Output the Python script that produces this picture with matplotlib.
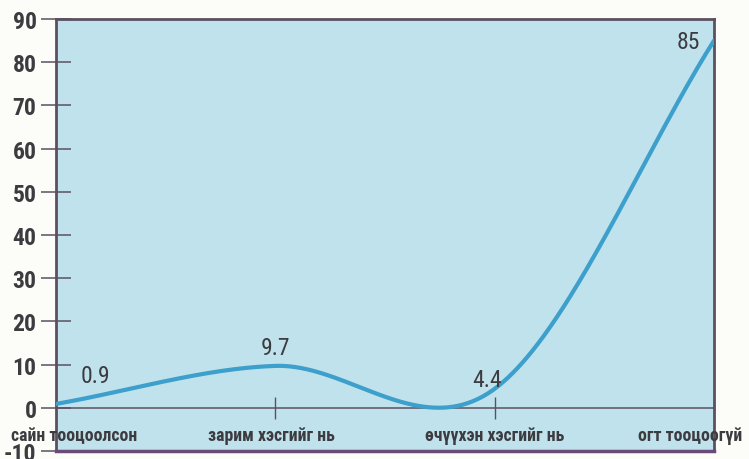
import numpy as np
import matplotlib.pyplot as plt
from matplotlib import font_manager as fm

categories = ['сайн тооцоолсон', 'зарим хэсгийг нь', 'өчүүхэн хэсгийг нь', 'огт тооцоогүй']
values = [0.9, 9.7, 4.4, 85]
y_ticks = [-10, 0, 10, 20, 30, 40, 50, 60, 70, 80, 90]

TXT = '#3b3b40'
LINE = '#3d9fcb'
FRAME = '#5b5060'


def pick_font():
    # a narrow face if the box has one, else Roboto
    for name in ['Liberation Sans Narrow', 'DejaVu Sans Condensed', 'Roboto Condensed',
                 'Open Sans Condensed', 'Noto Sans Condensed', 'Arial Narrow']:
        try:
            fm.findfont(fm.FontProperties(family=name), fallback_to_default=False)
            return name, 'normal'
        except ValueError:
            pass
    path = fm.findfont(fm.FontProperties(family='DejaVu Sans', stretch='condensed'))
    if 'Condensed' in path:
        return 'DejaVu Sans', 'condensed'
    return 'Roboto', 'normal'


FONT, STRETCH = pick_font()
FAM = [FONT, 'DejaVu Sans']


def smooth(y, n=400):
    # Catmull-Rom curve through the points, like the spreadsheet "smoothed line"
    y = np.asarray(y, float)
    k = len(y)
    m = np.zeros(k)
    m[0] = y[1] - y[0]
    m[-1] = y[-1] - y[-2]
    m[1:-1] = (y[2:] - y[:-2]) / 2
    xs = np.linspace(0, k - 1, n)
    i = np.minimum(xs.astype(int), k - 2)
    t = xs - i
    h00 = 2 * t**3 - 3 * t**2 + 1
    h10 = t**3 - 2 * t**2 + t
    h01 = -2 * t**3 + 3 * t**2
    h11 = t**3 - t**2
    return xs, h00 * y[i] + h10 * m[i] + h01 * y[i + 1] + h11 * m[i + 1]


fig = plt.figure(figsize=(7.49, 4.60), dpi=100)
fig.patch.set_facecolor('#fcfcf8')
ax = fig.add_axes([56 / 749, 8 / 460, 658 / 749, 432 / 460])
ax.set_facecolor('#c0e2ec')

xs, ys = smooth(values)
ax.plot(xs, ys, color=LINE, lw=3.0, solid_capstyle='round', zorder=3)

ax.set_xlim(0, len(categories) - 1)
ax.set_ylim(-10, 90)

# y axis
ax.set_yticks(y_ticks)
ax.set_yticklabels([str(v) for v in y_ticks], fontfamily=FAM, fontstretch=STRETCH,
                   fontweight='bold', fontsize=17, color=TXT)
ax.tick_params(axis='y', direction='inout', length=22, width=1.1, color=FRAME, pad=3)

# x axis sits on the zero line
ax.spines['bottom'].set_position(('data', 0))
ax.spines['bottom'].set_linewidth(1.1)
ax.spines['bottom'].set_color(FRAME)
ax.set_xticks([1, 2])
ax.set_xticklabels([])
ax.tick_params(axis='x', direction='inout', length=16, width=1.0, color=FRAME)
ax.axhline(-10, color='#6a4a78', lw=2.5, clip_on=False, zorder=4)

for s in ['left', 'top', 'right']:
    ax.spines[s].set_color(FRAME)
    ax.spines[s].set_linewidth(2.0)

label_shift = [18, -4, 0, -24]
cat_size = 12.8 if STRETCH == 'condensed' or FONT != 'Roboto' else 11.5
for i, name in enumerate(categories):
    ax.annotate(name, (i, -6.3), xytext=(label_shift[i], 0), textcoords='offset pixels',
                ha='center', va='center', fontfamily=FAM, fontstretch=STRETCH,
                fontweight='bold', fontsize=cat_size, color=TXT)

value_offsets = [(39, 28), (0, 18), (-8, 9), (-26, -1)]
for i, v in enumerate(values):
    ax.annotate(str(v), (i, v), xytext=value_offsets[i], textcoords='offset pixels',
                ha='center', va='center', fontfamily=FAM, fontstretch=STRETCH,
                fontsize=17, color=TXT)

fig.savefig('out.png', dpi=100, facecolor=fig.get_facecolor())
